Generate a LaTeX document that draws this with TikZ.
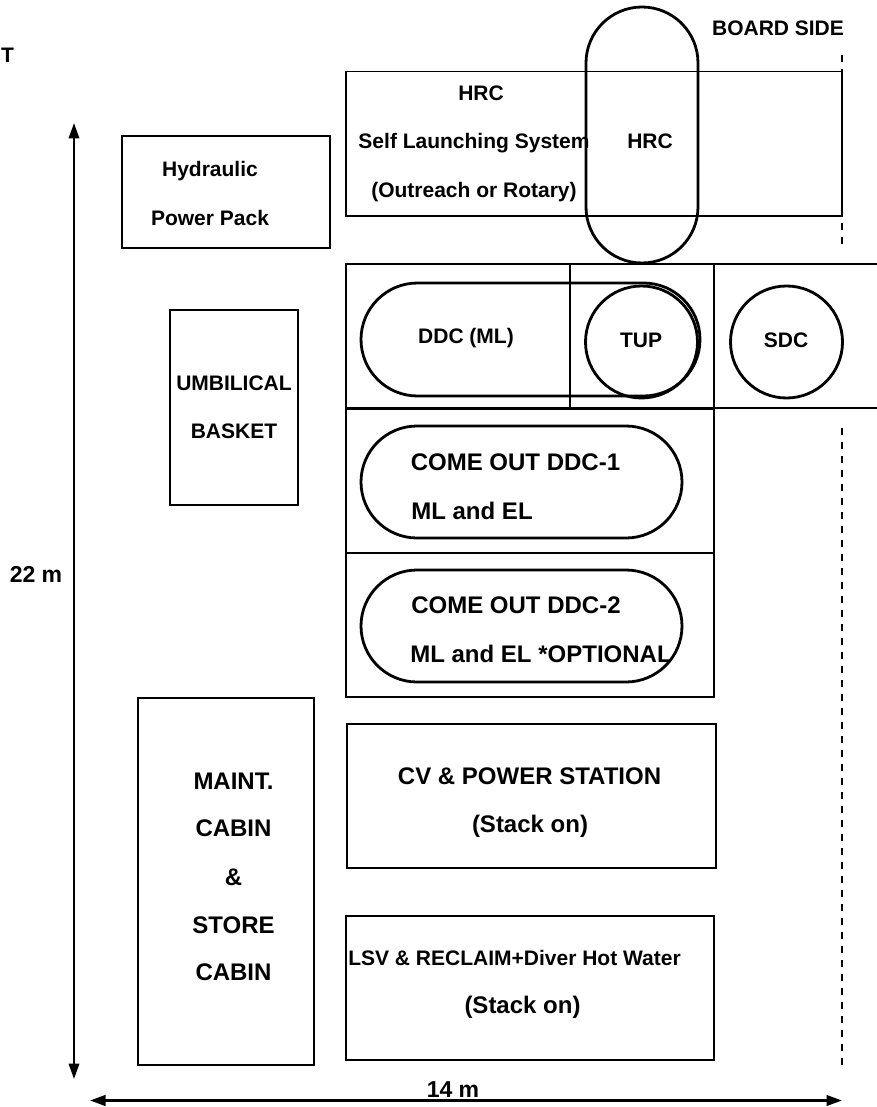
\documentclass[tikz,border=0pt]{standalone}
\usepackage{fontspec}
\setmainfont{Liberation Sans}
\usetikzlibrary{arrows.meta}
\usetikzlibrary{shapes.misc}

\begin{document}
\begin{tikzpicture}[
  x=1pt,y=-1pt,>={Triangle[length=15.5pt,width=10.5pt]},
  txt/.style={inner sep=0pt,outer sep=0pt,text height=15pt,text depth=0pt,font=\fontsize{21}{24}\selectfont\bfseries},
  bigtxt/.style={txt,text height=17pt,font=\fontsize{24}{28}\selectfont\bfseries},
  dimtxt/.style={txt,text height=16pt,font=\fontsize{23}{28}\selectfont\bfseries},
  cell/.style={draw,rectangle,inner sep=0pt,outer sep=0pt,line width=1.6pt},
  thickcell/.style={cell,line width=2.2pt},
  pill/.style={draw,rounded rectangle,inner sep=0pt,outer sep=0pt,line width=2.8pt},
  disc/.style={draw,circle,inner sep=0pt,outer sep=0pt,line width=2.8pt,minimum size=112pt},
  board/.style={dash pattern=on 7.5pt off 6.5pt,line width=1.7pt}]
      \useasboundingbox (0,0) rectangle (877,1107);

      % upper left
      \node [thickcell,minimum width=208pt,minimum height=112pt] (PACK) at (226,192){};
      \node [thickcell,minimum width=128pt,minimum height=195pt] (BASKET) at (234,407.5){};
      \node [thickcell,minimum width=176pt,minimum height=367pt] (CABIN) at (226,881.5){};

      % launching system
      \node [cell,minimum width=496pt,minimum height=144.5pt] (LAUNCH) at (594,143.75){};
      \node [pill,rotate=90,minimum width=256pt,minimum height=112pt] (HRCP) at (642,135){};

      % cells of the deck
      \node [cell,minimum width=224pt,minimum height=144pt] (DDCC) at (458,336){};
      \node [cell,minimum width=144pt,minimum height=144pt] (TUPC) at (642,336){};
      \node [cell,minimum width=368pt,minimum height=144pt] (OUT1) at (530,481){};
      \node [cell,minimum width=368pt,minimum height=144pt] (OUT2) at (530,625){};
      \node [cell,minimum width=369pt,minimum height=144pt] (CV) at (531.5,796){};
      \node [cell,minimum width=368pt,minimum height=144pt] (LSV) at (530,988){};

      \node [pill,minimum width=339pt,minimum height=113pt] (DDCP) at (530.5,339.5){};
      \node [disc] (TUPD) at (641.5,342){};
      \node [disc] (SDCD) at (786.5,342){};
      \node [pill,minimum width=321pt,minimum height=112pt] (OUT1P) at (521.5,482){};
      \node [pill,minimum width=321pt,minimum height=112pt] (OUT2P) at (521.5,626){};

      % open cell at the right
      \coordinate (S1) at (877,264);
      \coordinate (S2) at (877,408);
      \draw [line width=1.6pt] (TUPC.north east) -- (S1);
      \draw [line width=1.6pt] (TUPC.south east) -- (S2);

      % board line
      \coordinate (B1) at (842,55);
      \coordinate (B2) at (842,223);
      \coordinate (B3) at (842,244);
      \coordinate (B4) at (842,428);
      \coordinate (B5) at (842,1065);
      \draw [board] (B1) -- (LAUNCH.north east);
      \draw [board] (B2) -- (B3);
      \draw [board] (B5) -- (B4);

      % dimensions
      \coordinate (V1) at (74,123);
      \coordinate (V2) at (74,1079);
      \coordinate (H1) at (90,1100.5);
      \coordinate (H2) at (842,1100.5);
      \draw [<->,line width=2pt] (V1) -- (V2);
      \draw [<->,line width=2.6pt] (H1) -- (H2);

      % labels
      \node [txt] (T) at (7.5,55.5){T};
      \node [txt] (BS) at (778,28.5){BOARD SIDE};
      \node [txt] (L1) at (481,93){HRC};
      \node [txt] (L2) at (474,141.5){Self Launching System};
      \node [txt] (L3) at (474,190){(Outreach or Rotary)};
      \node [txt] (L4) at (650,141.5){HRC};
      \node [txt] (L5) at (210,169.5){Hydraulic};
      \node [txt] (L6) at (210,218){Power Pack};
      \node [txt] (L7) at (466,336){DDC (ML)};
      \node [txt] (L8) at (641,339.5){TUP};
      \node [txt] (L9) at (786,339.5){SDC};
      \node [txt] (L10) at (234,382.5){UMBILICAL};
      \node [txt] (L11) at (234,430.5){BASKET};
      \node [bigtxt] (L12) at (515.5,462){COME OUT DDC-1};
      \node [bigtxt] (L13) at (472,510.5){ML and EL};
      \node [bigtxt] (L14) at (516,605){COME OUT DDC-2};
      \node [bigtxt] (L15) at (541,653.5){ML and EL *OPTIONAL};
      \node [bigtxt] (L16) at (233.5,780.5){MAINT.};
      \node [bigtxt] (L17) at (233.5,828){CABIN};
      \node [bigtxt] (L18) at (233.5,876.5){\&};
      \node [bigtxt] (L19) at (233.5,924.5){STORE};
      \node [bigtxt] (L20) at (233.5,972){CABIN};
      \node [bigtxt] (L21) at (529.5,775.5){CV \& POWER STATION};
      \node [bigtxt] (L22) at (530,823.5){(Stack on)};
      \node [txt] (L23) at (514.5,957.5){LSV \& RECLAIM+Diver Hot Water};
      \node [bigtxt] (L24) at (522.5,1005){(Stack on)};
      \node [dimtxt] (L25) at (36,574.5){22 m};
      \node [dimtxt] (L26) at (453,1089){14 m};
\end{tikzpicture}
\end{document}
